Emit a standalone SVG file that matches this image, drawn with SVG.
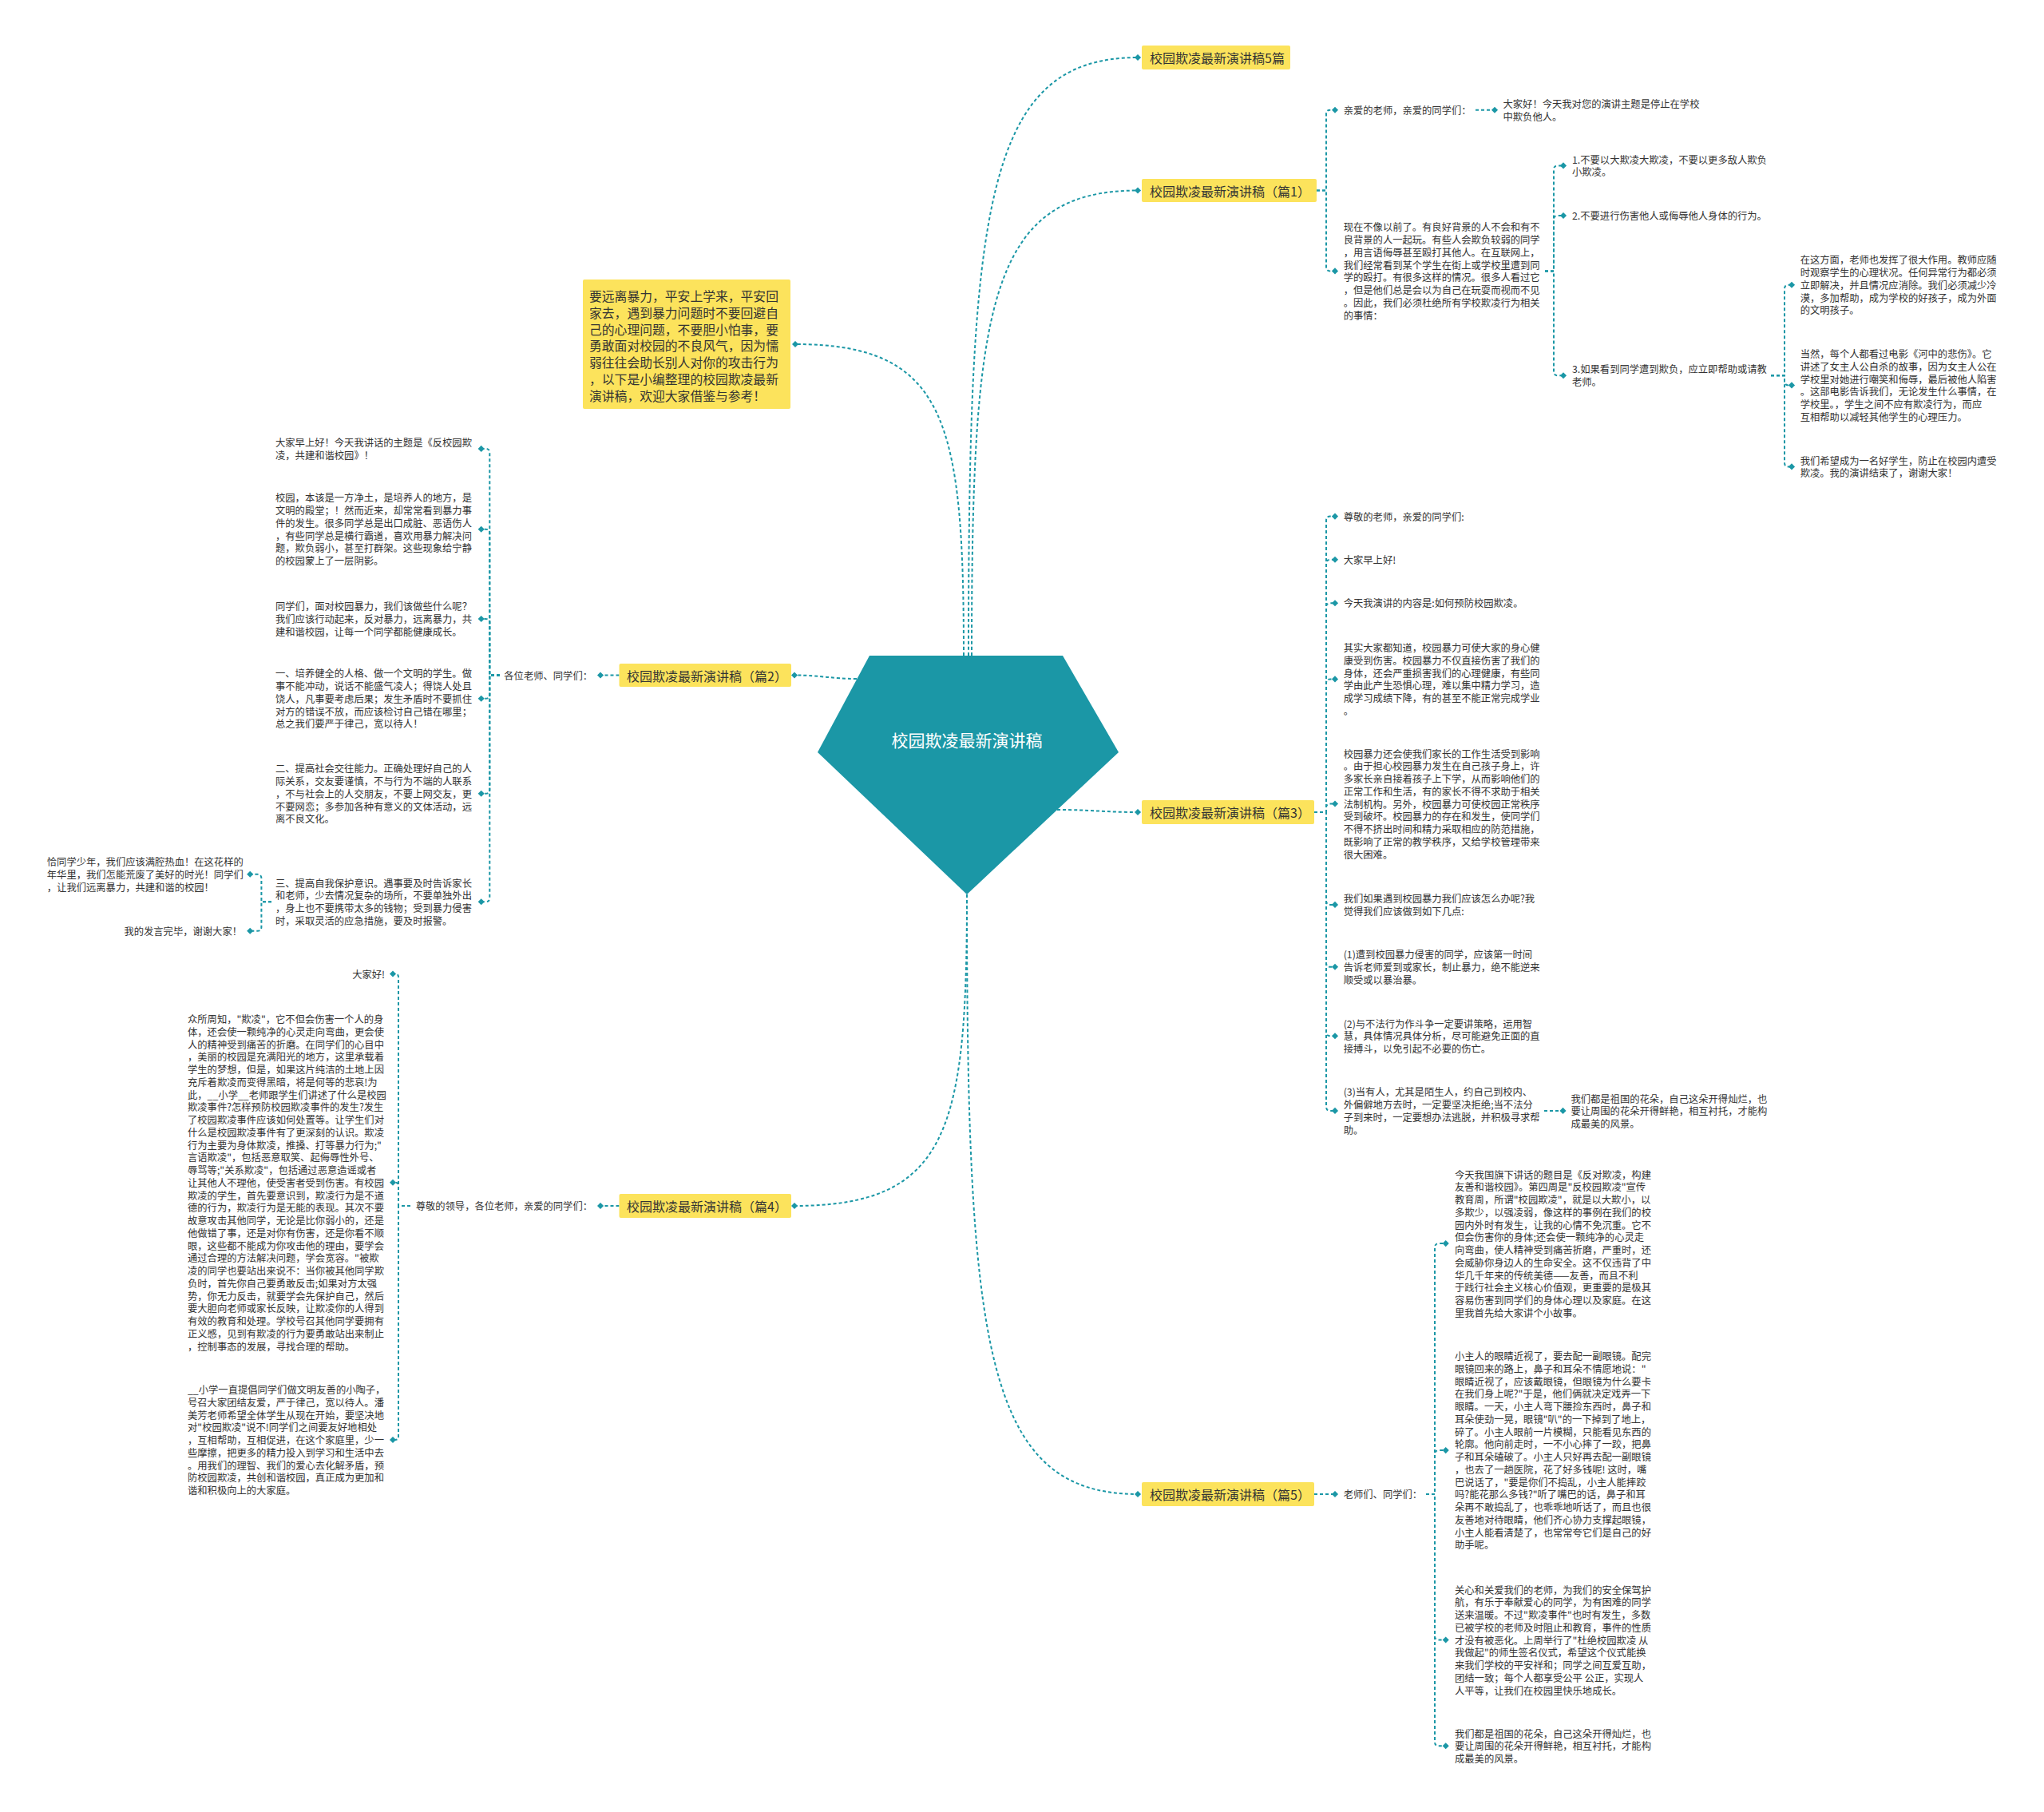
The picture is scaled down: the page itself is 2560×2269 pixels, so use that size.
<svg xmlns="http://www.w3.org/2000/svg" width="2560" height="2269" viewBox="0 0 2560 2269">
<style>
text,tspan{dominant-baseline:central}
.t{font-family:"Noto Sans CJK SC","Noto Sans",sans-serif;font-size:12.3px;fill:#333}
.lb{font-family:"Noto Sans CJK SC","Noto Sans",sans-serif;font-size:16px;fill:#333}
.intro{font-family:"Noto Sans CJK SC","Noto Sans",sans-serif;font-size:15.8px;fill:#333}
.root{font-family:"Noto Sans CJK SC","Noto Sans",sans-serif;font-size:21px;fill:#fff}
.yb{fill:#FCE35C}
.c{fill:none;stroke:#1B97A6;stroke-width:2;stroke-dasharray:4 3;marker-end:url(#d)}
</style>
<defs>
<marker id="d" viewBox="-5 -5 10 10" markerWidth="9" markerHeight="9" markerUnits="userSpaceOnUse" orient="auto"><path d="M-4.5 0L0-4.5 4.5 0 0 4.5Z" fill="#1B97A6"/></marker>
</defs>
<rect width="2560" height="2269" fill="#fff"/>

<g id="connectors">
<path class="c" d="M1213 821C1213 259 1234 72 1425 72"/>
<path class="c" d="M1217 821C1217 384 1238 238.5 1425 238.5"/>
<path class="c" d="M1207 821C1207 528 1186 431 996 431"/>
<path class="c" d="M1324 1014C1370 1014 1380 1017 1425 1017"/>
<path class="c" d="M1073 850C1040 850 1030 845.5 995 845.5"/>
<path class="c" d="M1211 1120C1211 1412 1190 1510 995 1510"/>
<path class="c" d="M1211 1120C1211 1683 1233 1871 1425 1871"/>

<path class="c" d="M1649 238.5H1661V142.7Q1661 137.7 1666 137.7H1672"/>
<path class="c" d="M1649 238.5H1661V334.4Q1661 339.4 1666 339.4H1672"/>
<path class="c" d="M1848 137.7H1872"/>
<path class="c" d="M1935 339.4H1946V212.4Q1946 207.4 1951 207.4H1958"/>
<path class="c" d="M1935 339.4H1946V275Q1946 270 1951 270H1958"/>
<path class="c" d="M1935 339.4H1946V465.2Q1946 470.2 1951 470.2H1958"/>
<path class="c" d="M2218 470.2H2235V361.8Q2235 356.8 2240 356.8H2244"/>
<path class="c" d="M2218 470.2H2235V477.4Q2235 482.4 2240 482.4H2244"/>
<path class="c" d="M2218 470.2H2235V579.4Q2235 584.4 2240 584.4H2244"/>

<path class="c" d="M1646 1017H1661V651.6Q1661 646.6 1666 646.6H1672"/>
<path class="c" d="M1646 1017H1661V705.8Q1661 700.8 1666 700.8H1672"/>
<path class="c" d="M1646 1017H1661V760.3Q1661 755.3 1666 755.3H1672"/>
<path class="c" d="M1646 1017H1661V855.4Q1661 850.4 1666 850.4H1672"/>
<path class="c" d="M1646 1017H1661V1011.5Q1661 1006.5 1666 1006.5H1672"/>
<path class="c" d="M1646 1017H1661V1127.9Q1661 1132.9 1666 1132.9H1672"/>
<path class="c" d="M1646 1017H1661V1205.8Q1661 1210.8 1666 1210.8H1672"/>
<path class="c" d="M1646 1017H1661V1292.3Q1661 1297.3 1666 1297.3H1672"/>
<path class="c" d="M1646 1017H1661V1385.9Q1661 1390.9 1666 1390.9H1672"/>
<path class="c" d="M1934 1390.9H1957.5"/>

<path class="c" d="M1646 1871H1672"/>
<path class="c" d="M1786 1871H1797V1562.1Q1797 1557.1 1802 1557.1H1810.7"/>
<path class="c" d="M1786 1871H1797V1821.1Q1797 1816.1 1802 1816.1H1810.7"/>
<path class="c" d="M1786 1871H1797V2048.5Q1797 2053.5 1802 2053.5H1810.7"/>
<path class="c" d="M1786 1871H1797V2181.3Q1797 2186.3 1802 2186.3H1810.7"/>

<path class="c" d="M775.5 845.5H752"/>
<path class="c" d="M626 845.5H613.3V566.9Q613.3 561.9 608.3 561.9H602.7"/>
<path class="c" d="M626 845.5H613.3V667.7Q613.3 662.7 608.3 662.7H602.7"/>
<path class="c" d="M626 845.5H613.3V780Q613.3 775 608.3 775H602.7"/>
<path class="c" d="M626 845.5H613.3V869.8Q613.3 874.8 608.3 874.8H602.7"/>
<path class="c" d="M626 845.5H613.3V988.8Q613.3 993.8 608.3 993.8H602.7"/>
<path class="c" d="M626 845.5H613.3V1124.3Q613.3 1129.3 608.3 1129.3H602.7"/>
<path class="c" d="M340 1129.3H327.4V1099.8Q327.4 1094.8 322.4 1094.8H313.2"/>
<path class="c" d="M340 1129.3H327.4V1160.7Q327.4 1165.7 322.4 1165.7H313.2"/>

<path class="c" d="M775.5 1510H752"/>
<path class="c" d="M514 1510H499V1223.5Q499 1219.5 495 1219.5H492"/>
<path class="c" d="M514 1510H499V1484.8Q499 1480.8 495 1480.8H492"/>
<path class="c" d="M514 1510H499V1799Q499 1803 495 1803H492"/>
</g>

<g id="root">
<polygon points="1089,821 1331,821 1401,942 1211,1120 1024,942" fill="#1B97A6"/>
<text class="root" x="1211" y="926" text-anchor="middle">校园欺凌最新演讲稿</text>
</g>

<g id="intro">
<rect class="yb" x="730" y="350" width="260" height="162" rx="2"/>
<text class="intro" x="738" y="370">要远离暴力，平安上学来，平安回<tspan x="738" dy="20.8">家去，遇到暴力问题时不要回避自</tspan><tspan x="738" dy="20.8">己的心理问题，不要胆小怕事，要</tspan><tspan x="738" dy="20.8">勇敢面对校园的不良风气，因为懦</tspan><tspan x="738" dy="20.8">弱往往会助长别人对你的攻击行为</tspan><tspan x="738" dy="20.8">，以下是小编整理的校园欺凌最新</tspan><tspan x="738" dy="20.8">演讲稿，欢迎大家借鉴与参考！</tspan></text>
</g>

<g id="label-5">
<rect class="yb" x="1430" y="57" width="186" height="30" rx="2"/>
<text class="lb" x="1440" y="72">校园欺凌最新演讲稿5篇</text>
</g>
<g id="label-1">
<rect class="yb" x="1430" y="224" width="219" height="29" rx="2"/>
<text class="lb" x="1440" y="238.5">校园欺凌最新演讲稿（篇1）</text>
</g>
<g id="label-3">
<rect class="yb" x="1430" y="1002" width="216" height="30" rx="2"/>
<text class="lb" x="1440" y="1017">校园欺凌最新演讲稿（篇3）</text>
</g>
<g id="label-5b">
<rect class="yb" x="1430" y="1856" width="216" height="30" rx="2"/>
<text class="lb" x="1440" y="1871">校园欺凌最新演讲稿（篇5）</text>
</g>
<g id="label-2">
<rect class="yb" x="775.5" y="831" width="215.5" height="29" rx="2"/>
<text class="lb" x="785" y="845.5">校园欺凌最新演讲稿（篇2）</text>
</g>
<g id="label-4">
<rect class="yb" x="775.5" y="1495" width="215.5" height="30" rx="2"/>
<text class="lb" x="785" y="1510">校园欺凌最新演讲稿（篇4）</text>
</g>

<g id="n1-a"><text class="t" x="1682.7" y="137.7">亲爱的老师，亲爱的同学们：</text></g>
<g id="n1-a1"><text class="t" x="1882.5" y="129.8">大家好！今天我对您的演讲主题是停止在学校<tspan x="1882.5" dy="15.75">中欺负他人。</tspan></text></g>
<g id="n1-b"><text class="t" x="1682.7" y="284.3">现在不像以前了。有良好背景的人不会和有不<tspan x="1682.7" dy="15.75">良背景的人一起玩。有些人会欺负较弱的同学</tspan><tspan x="1682.7" dy="15.75">，用言语侮辱甚至殴打其他人。在互联网上，</tspan><tspan x="1682.7" dy="15.75">我们经常看到某个学生在街上或学校里遭到同</tspan><tspan x="1682.7" dy="15.75">学的殴打。有很多这样的情况。很多人看过它</tspan><tspan x="1682.7" dy="15.75">，但是他们总是会以为自己在玩耍而视而不见</tspan><tspan x="1682.7" dy="15.75">。因此，我们必须杜绝所有学校欺凌行为相关</tspan><tspan x="1682.7" dy="15.75">的事情：</tspan></text></g>
<g id="n1-b1"><text class="t" x="1969" y="199.5">1.不要以大欺凌大欺凌，不要以更多敌人欺负<tspan x="1969" dy="15.75">小欺凌。</tspan></text></g>
<g id="n1-b2"><text class="t" x="1969" y="270">2.不要进行伤害他人或侮辱他人身体的行为。</text></g>
<g id="n1-b3"><text class="t" x="1969" y="462.3">3.如果看到同学遭到欺负，应立即帮助或请教<tspan x="1969" dy="15.75">老师。</tspan></text></g>
<g id="n1-b3a"><text class="t" x="2254.7" y="325.3">在这方面，老师也发挥了很大作用。教师应随<tspan x="2254.7" dy="15.75">时观察学生的心理状况。任何异常行为都必须</tspan><tspan x="2254.7" dy="15.75">立即解决，并且情况应消除。我们必须减少冷</tspan><tspan x="2254.7" dy="15.75">漠，多加帮助，成为学校的好孩子，成为外面</tspan><tspan x="2254.7" dy="15.75">的文明孩子。</tspan></text></g>
<g id="n1-b3b"><text class="t" x="2254.7" y="443">当然，每个人都看过电影《河中的悲伤》。它<tspan x="2254.7" dy="15.75">讲述了女主人公自杀的故事，因为女主人公在</tspan><tspan x="2254.7" dy="15.75">学校里对她进行嘲笑和侮辱，最后被他人陷害</tspan><tspan x="2254.7" dy="15.75">。这部电影告诉我们，无论发生什么事情，在</tspan><tspan x="2254.7" dy="15.75">学校里。，学生之间不应有欺凌行为，而应</tspan><tspan x="2254.7" dy="15.75">互相帮助以减轻其他学生的心理压力。</tspan></text></g>
<g id="n1-b3c"><text class="t" x="2254.7" y="576.5">我们希望成为一名好学生，防止在校园内遭受<tspan x="2254.7" dy="15.75">欺凌。我的演讲结束了，谢谢大家！</tspan></text></g>

<g id="n3-1"><text class="t" x="1682.7" y="646.6">尊敬的老师，亲爱的同学们:</text></g>
<g id="n3-2"><text class="t" x="1682.7" y="700.8">大家早上好!</text></g>
<g id="n3-3"><text class="t" x="1682.7" y="755.3">今天我演讲的内容是:如何预防校园欺凌。</text></g>
<g id="n3-4"><text class="t" x="1682.7" y="811">其实大家都知道，校园暴力可使大家的身心健<tspan x="1682.7" dy="15.75">康受到伤害。校园暴力不仅直接伤害了我们的</tspan><tspan x="1682.7" dy="15.75">身体，还会严重损害我们的心理健康，有些同</tspan><tspan x="1682.7" dy="15.75">学由此产生恐惧心理，难以集中精力学习，造</tspan><tspan x="1682.7" dy="15.75">成学习成绩下降，有的甚至不能正常完成学业</tspan><tspan x="1682.7" dy="15.75">。</tspan></text></g>
<g id="n3-5"><text class="t" x="1682.7" y="943.5">校园暴力还会使我们家长的工作生活受到影响<tspan x="1682.7" dy="15.75">。由于担心校园暴力发生在自己孩子身上，许</tspan><tspan x="1682.7" dy="15.75">多家长亲自接着孩子上下学，从而影响他们的</tspan><tspan x="1682.7" dy="15.75">正常工作和生活，有的家长不得不求助于相关</tspan><tspan x="1682.7" dy="15.75">法制机构。另外，校园暴力可使校园正常秩序</tspan><tspan x="1682.7" dy="15.75">受到破坏。校园暴力的存在和发生，使同学们</tspan><tspan x="1682.7" dy="15.75">不得不挤出时间和精力采取相应的防范措施，</tspan><tspan x="1682.7" dy="15.75">既影响了正常的教学秩序，又给学校管理带来</tspan><tspan x="1682.7" dy="15.75">很大困难。</tspan></text></g>
<g id="n3-6"><text class="t" x="1682.7" y="1125">我们如果遇到校园暴力我们应该怎么办呢?我<tspan x="1682.7" dy="15.75">觉得我们应该做到如下几点:</tspan></text></g>
<g id="n3-7"><text class="t" x="1682.7" y="1195">(1)遭到校园暴力侵害的同学，应该第一时间<tspan x="1682.7" dy="15.75">告诉老师爱到或家长，制止暴力，绝不能逆来</tspan><tspan x="1682.7" dy="15.75">顺受或以暴治暴。</tspan></text></g>
<g id="n3-8"><text class="t" x="1682.7" y="1281.5">(2)与不法行为作斗争一定要讲策略，运用智<tspan x="1682.7" dy="15.75">慧，具体情况具体分析，尽可能避免正面的直</tspan><tspan x="1682.7" dy="15.75">接搏斗，以免引起不必要的伤亡。</tspan></text></g>
<g id="n3-9"><text class="t" x="1682.7" y="1367.3">(3)当有人，尤其是陌生人，约自己到校内、<tspan x="1682.7" dy="15.75">外偏僻地方去时，一定要坚决拒绝;当不法分</tspan><tspan x="1682.7" dy="15.75">子到来时，一定要想办法逃脱，并积极寻求帮</tspan><tspan x="1682.7" dy="15.75">助。</tspan></text></g>
<g id="n3-9a"><text class="t" x="1967.4" y="1375.5">我们都是祖国的花朵，自己这朵开得灿烂，也<tspan x="1967.4" dy="15.75">要让周围的花朵开得鲜艳，相互衬托，才能构</tspan><tspan x="1967.4" dy="15.75">成最美的风景。</tspan></text></g>

<g id="n5-0"><text class="t" x="1682.7" y="1871">老师们、同学们：</text></g>
<g id="n5-1"><text class="t" x="1822" y="1470.5">今天我国旗下讲话的题目是《反对欺凌，构建<tspan x="1822" dy="15.75">友善和谐校园》。第四周是"反校园欺凌"宣传</tspan><tspan x="1822" dy="15.75">教育周，所谓"校园欺凌"，就是以大欺小，以</tspan><tspan x="1822" dy="15.75">多欺少，以强凌弱，像这样的事例在我们的校</tspan><tspan x="1822" dy="15.75">园内外时有发生，让我的心情不免沉重。它不</tspan><tspan x="1822" dy="15.75">但会伤害你的身体;还会使一颗纯净的心灵走</tspan><tspan x="1822" dy="15.75">向弯曲，使人精神受到痛苦折磨，严重时，还</tspan><tspan x="1822" dy="15.75">会威胁你身边人的生命安全。这不仅违背了中</tspan><tspan x="1822" dy="15.75">华几千年来的传统美德——友善，而且不利</tspan><tspan x="1822" dy="15.75">于践行社会主义核心价值观，更重要的是极其</tspan><tspan x="1822" dy="15.75">容易伤害到同学们的身体心理以及家庭。在这</tspan><tspan x="1822" dy="15.75">里我首先给大家讲个小故事。</tspan></text></g>
<g id="n5-2"><text class="t" x="1822" y="1698">小主人的眼睛近视了，要去配一副眼镜。配完<tspan x="1822" dy="15.75">眼镜回来的路上，鼻子和耳朵不情愿地说："</tspan><tspan x="1822" dy="15.75">眼睛近视了，应该戴眼镜，但眼镜为什么要卡</tspan><tspan x="1822" dy="15.75">在我们身上呢?"于是，他们俩就决定戏弄一下</tspan><tspan x="1822" dy="15.75">眼睛。一天，小主人弯下腰捡东西时，鼻子和</tspan><tspan x="1822" dy="15.75">耳朵使劲一晃，眼镜"叭"的一下掉到了地上，</tspan><tspan x="1822" dy="15.75">碎了。小主人眼前一片模糊，只能看见东西的</tspan><tspan x="1822" dy="15.75">轮廓。他向前走时，一不小心摔了一跤，把鼻</tspan><tspan x="1822" dy="15.75">子和耳朵磕破了。小主人只好再去配一副眼镜</tspan><tspan x="1822" dy="15.75">，也去了一趟医院，花了好多钱呢! 这时，嘴</tspan><tspan x="1822" dy="15.75">巴说话了，"要是你们不捣乱，小主人能摔跤</tspan><tspan x="1822" dy="15.75">吗?能花那么多钱?"听了嘴巴的话，鼻子和耳</tspan><tspan x="1822" dy="15.75">朵再不敢捣乱了，也乖乖地听话了，而且也很</tspan><tspan x="1822" dy="15.75">友善地对待眼睛，他们齐心协力支撑起眼镜，</tspan><tspan x="1822" dy="15.75">小主人能看清楚了，也常常夸它们是自己的好</tspan><tspan x="1822" dy="15.75">助手呢。</tspan></text></g>
<g id="n5-3"><text class="t" x="1822" y="1990.5">关心和关爱我们的老师，为我们的安全保驾护<tspan x="1822" dy="15.75">航，有乐于奉献爱心的同学，为有困难的同学</tspan><tspan x="1822" dy="15.75">送来温暖。不过"欺凌事件"也时有发生，多数</tspan><tspan x="1822" dy="15.75">已被学校的老师及时阻止和教育，事件的性质</tspan><tspan x="1822" dy="15.75">才没有被恶化。上周举行了"杜绝校园欺凌 从</tspan><tspan x="1822" dy="15.75">我做起"的师生签名仪式，希望这个仪式能换</tspan><tspan x="1822" dy="15.75">来我们学校的平安祥和；同学之间互爱互助，</tspan><tspan x="1822" dy="15.75">团结一致；每个人都享受公平 公正，实现人</tspan><tspan x="1822" dy="15.75">人平等，让我们在校园里快乐地成长。</tspan></text></g>
<g id="n5-4"><text class="t" x="1822" y="2170.5">我们都是祖国的花朵，自己这朵开得灿烂，也<tspan x="1822" dy="15.75">要让周围的花朵开得鲜艳，相互衬托，才能构</tspan><tspan x="1822" dy="15.75">成最美的风景。</tspan></text></g>

<g id="n2-0"><text class="t" x="742" y="845.5" text-anchor="end">各位老师、同学们：</text></g>
<g id="n2-1"><text class="t" x="345" y="554">大家早上好！今天我讲话的主题是《反校园欺<tspan x="345" dy="15.75">凌，共建和谐校园》！</tspan></text></g>
<g id="n2-2"><text class="t" x="345" y="623.3">校园，本该是一方净土，是培养人的地方，是<tspan x="345" dy="15.75">文明的殿堂；！然而近来，却常常看到暴力事</tspan><tspan x="345" dy="15.75">件的发生。很多同学总是出口成脏、恶语伤人</tspan><tspan x="345" dy="15.75">，有些同学总是横行霸道，喜欢用暴力解决问</tspan><tspan x="345" dy="15.75">题，欺负弱小，甚至打群架。这些现象给宁静</tspan><tspan x="345" dy="15.75">的校园蒙上了一层阴影。</tspan></text></g>
<g id="n2-3"><text class="t" x="345" y="759.3">同学们，面对校园暴力，我们该做些什么呢？<tspan x="345" dy="15.75">我们应该行动起来，反对暴力，远离暴力，共</tspan><tspan x="345" dy="15.75">建和谐校园，让每一个同学都能健康成长。</tspan></text></g>
<g id="n2-4"><text class="t" x="345" y="843.3">一、培养健全的人格、做一个文明的学生。做<tspan x="345" dy="15.75">事不能冲动，说话不能盛气凌人；得饶人处且</tspan><tspan x="345" dy="15.75">饶人，凡事要考虑后果；发生矛盾时不要抓住</tspan><tspan x="345" dy="15.75">对方的错误不放，而应该检讨自己错在哪里；</tspan><tspan x="345" dy="15.75">总之我们要严于律己，宽以待人！</tspan></text></g>
<g id="n2-5"><text class="t" x="345" y="962.3">二、提高社会交往能力。正确处理好自己的人<tspan x="345" dy="15.75">际关系，交友要谨慎，不与行为不端的人联系</tspan><tspan x="345" dy="15.75">，不与社会上的人交朋友，不要上网交友，更</tspan><tspan x="345" dy="15.75">不要网恋；多参加各种有意义的文体活动，远</tspan><tspan x="345" dy="15.75">离不良文化。</tspan></text></g>
<g id="n2-6"><text class="t" x="345" y="1105.7">三、提高自我保护意识。遇事要及时告诉家长<tspan x="345" dy="15.75">和老师，少去情况复杂的场所，不要单独外出</tspan><tspan x="345" dy="15.75">，身上也不要携带太多的钱物；受到暴力侵害</tspan><tspan x="345" dy="15.75">时，采取灵活的应急措施，要及时报警。</tspan></text></g>
<g id="n2-6a"><text class="t" x="58.8" y="1079">恰同学少年，我们应该满腔热血！在这花样的<tspan x="58.8" dy="15.75">年华里，我们怎能荒废了美好的时光！同学们</tspan><tspan x="58.8" dy="15.75">，让我们远离暴力，共建和谐的校园！</tspan></text></g>
<g id="n2-6b"><text class="t" x="303" y="1165.7" text-anchor="end">我的发言完毕，谢谢大家！</text></g>

<g id="n4-0"><text class="t" x="742" y="1510" text-anchor="end">尊敬的领导，各位老师，亲爱的同学们：</text></g>
<g id="n4-1"><text class="t" x="482" y="1219.5" text-anchor="end">大家好!</text></g>
<g id="n4-2"><text class="t" x="235" y="1276">众所周知，"欺凌"，它不但会伤害一个人的身<tspan x="235" dy="15.75">体，还会使一颗纯净的心灵走向弯曲，更会使</tspan><tspan x="235" dy="15.75">人的精神受到痛苦的折磨。在同学们的心目中</tspan><tspan x="235" dy="15.75">，美丽的校园是充满阳光的地方，这里承载着</tspan><tspan x="235" dy="15.75">学生的梦想，但是，如果这片纯洁的土地上因</tspan><tspan x="235" dy="15.75">充斥着欺凌而变得黑暗，将是何等的悲哀!为</tspan><tspan x="235" dy="15.75">此，__小学__老师跟学生们讲述了什么是校园</tspan><tspan x="235" dy="15.75">欺凌事件?怎样预防校园欺凌事件的发生?发生</tspan><tspan x="235" dy="15.75">了校园欺凌事件应该如何处置等。让学生们对</tspan><tspan x="235" dy="15.75">什么是校园欺凌事件有了更深刻的认识。欺凌</tspan><tspan x="235" dy="15.75">行为主要为身体欺凌，推搡、打等暴力行为;"</tspan><tspan x="235" dy="15.75">言语欺凌"，包括恶意取笑、起侮辱性外号、</tspan><tspan x="235" dy="15.75">辱骂等;"关系欺凌"，包括通过恶意造谣或者</tspan><tspan x="235" dy="15.75">让其他人不理他，使受害者受到伤害。有校园</tspan><tspan x="235" dy="15.75">欺凌的学生，首先要意识到，欺凌行为是不道</tspan><tspan x="235" dy="15.75">德的行为，欺凌行为是无能的表现。其次不要</tspan><tspan x="235" dy="15.75">故意攻击其他同学，无论是比你弱小的，还是</tspan><tspan x="235" dy="15.75">他做错了事，还是对你有伤害，还是你看不顺</tspan><tspan x="235" dy="15.75">眼，这些都不能成为你攻击他的理由，要学会</tspan><tspan x="235" dy="15.75">通过合理的方法解决问题，学会宽容。"被欺</tspan><tspan x="235" dy="15.75">凌的同学也要站出来说不：当你被其他同学欺</tspan><tspan x="235" dy="15.75">负时，首先你自己要勇敢反击;如果对方太强</tspan><tspan x="235" dy="15.75">势，你无力反击，就要学会先保护自己，然后</tspan><tspan x="235" dy="15.75">要大胆向老师或家长反映，让欺凌你的人得到</tspan><tspan x="235" dy="15.75">有效的教育和处理。学校号召其他同学要拥有</tspan><tspan x="235" dy="15.75">正义感，见到有欺凌的行为要勇敢站出来制止</tspan><tspan x="235" dy="15.75">，控制事态的发展，寻找合理的帮助。</tspan></text></g>
<g id="n4-3"><text class="t" x="235" y="1740">__小学一直提倡同学们做文明友善的小陶子，<tspan x="235" dy="15.75">号召大家团结友爱，严于律己，宽以待人。潘</tspan><tspan x="235" dy="15.75">美芳老师希望全体学生从现在开始，要坚决地</tspan><tspan x="235" dy="15.75">对"校园欺凌"说不!同学们之间要友好地相处</tspan><tspan x="235" dy="15.75">，互相帮助，互相促进，在这个家庭里，少一</tspan><tspan x="235" dy="15.75">些摩擦，把更多的精力投入到学习和生活中去</tspan><tspan x="235" dy="15.75">。用我们的理智、我们的爱心去化解矛盾，预</tspan><tspan x="235" dy="15.75">防校园欺凌，共创和谐校园，真正成为更加和</tspan><tspan x="235" dy="15.75">谐和积极向上的大家庭。</tspan></text></g>
</svg>
